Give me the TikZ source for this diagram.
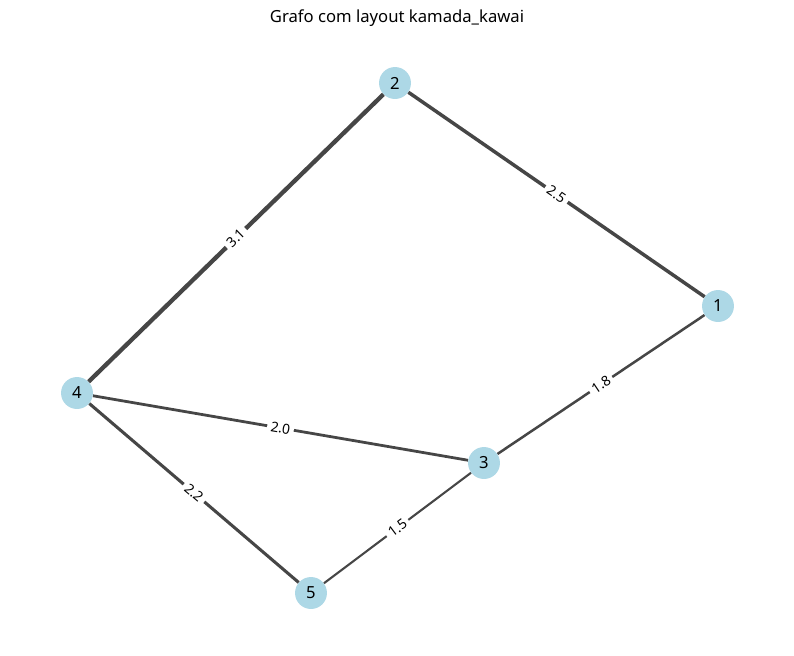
\documentclass[tikz,border=0pt]{standalone}
\usepackage{fontspec}
\setmainfont{Noto Sans}
\definecolor{lightblue}{RGB}{173,216,230}
\definecolor{edgegray}{RGB}{70,70,70}
\begin{document}
\begin{tikzpicture}[x=0.72pt, y=-0.72pt,
  vertex/.style={circle, fill=lightblue, minimum size=23pt, inner sep=0pt,
    font=\fontsize{12}{14}\selectfont},
  link/.style={draw=edgegray, line width=#1pt},
  weight/.style={sloped, fill=white, rounded corners=2pt, inner sep=2.6pt,
    font=\fontsize{10}{12}\selectfont}]

  \fill[white] (0,0) rectangle (794,656);
  \useasboundingbox (0,0) rectangle (794,656);

  \node[font=\fontsize{12}{14}\selectfont] (title) at (397,18) {Grafo com layout kamada\_kawai};

  % vertices
  \node[vertex] (n1) at (718,306) {1};
  \node[vertex] (n2) at (395,83) {2};
  \node[vertex] (n3) at (484,463) {3};
  \node[vertex] (n4) at (77,393) {4};
  \node[vertex] (n5) at (311,593) {5};

  % weighted edges
  \draw[link=3.1] (n4) -- node[weight]{3.1} (n2);
  \draw[link=2.5] (n2) -- node[weight]{2.5} (n1);
  \draw[link=1.8] (n3) -- node[weight]{1.8} (n1);
  \draw[link=2.0] (n4) -- node[weight]{2.0} (n3);
  \draw[link=2.2] (n4) -- node[weight]{2.2} (n5);
  \draw[link=1.5] (n5) -- node[weight]{1.5} (n3);
\end{tikzpicture}
\end{document}
